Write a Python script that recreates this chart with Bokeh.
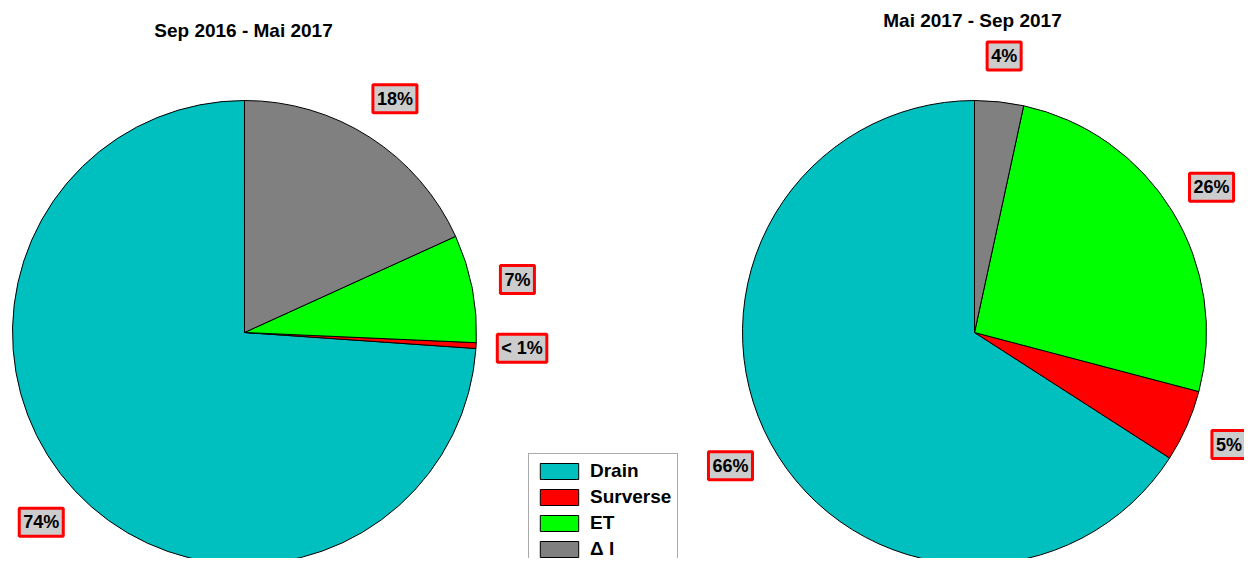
import numpy as np
from bokeh.plotting import figure
from bokeh.models import Range1d, Legend, LegendItem, ColumnDataSource
from bokeh.core.properties import value
from bokeh.embed import file_html
from bokeh.resources import INLINE

# ---- data ----
categories = ["Drain", "Surverse", "ET", "Δ I"]
colors = ["#00BFBF", "#FF0000", "#00FF00", "#808080"]
left_pct = [73.9, 0.4, 7.5, 18.2]
right_pct = [65.9, 5.0, 25.7, 3.4]
left_labels = ["74%", "< 1%", "7%", "18%"]
right_labels = ["66%", "5%", "26%", "4%"]
titles = ["Sep 2016 - Mai 2017", "Mai 2017 - Sep 2017"]

# ---- layout (picture pixel coordinates -> data: y = 566 - pic_y) ----
W, H = 1244, 558
FONT = "Liberation Sans"

p = figure(width=W, height=H, output_backend="svg", toolbar_location=None,
           x_range=Range1d(0, W), y_range=Range1d(566 - H, 566),
           x_axis_type=None, y_axis_type=None, min_border=0)
p.grid.visible = False
p.outline_line_color = None
p.background_fill_color = "white"


def pie(cx, cy, r, pct, labels):
    # clockwise from 12 o'clock, order: Δ I, ET, Surverse, Drain
    order = [3, 2, 1, 0]
    total = float(sum(pct))
    starts, ends, cols, lx, ly, txt = [None] * 4, [None] * 4, [None] * 4, [], [], []
    cum = 0.0
    for i in order:
        a0 = np.pi / 2 - cum / total * 2 * np.pi
        cum += pct[i]
        a1 = np.pi / 2 - cum / total * 2 * np.pi
        starts[i], ends[i], cols[i] = a0, a1, colors[i]
        mid = (a0 + a1) / 2
        lx.append(cx + 278 * np.cos(mid))
        ly.append(cy + 278 * np.sin(mid))
        txt.append(labels[i])
    src = ColumnDataSource(dict(x=[cx] * 4, y=[cy] * 4, start=starts, end=ends,
                                color=cols))
    rend = p.wedge(x="x", y="y", radius=r, start_angle="start", end_angle="end",
                   direction="clock", fill_color="color", line_color="black",
                   line_width=1, source=src)
    p.text(x=lx, y=ly, text=txt, text_align="center", text_baseline="middle",
           text_font=value(FONT), text_font_style="bold", text_font_size="18px",
           text_color="black", background_fill_color="#cccccc",
           border_line_color="#ff0000", border_line_width=3, padding=4)
    return rend


r_left = pie(244, 566 - 332, 232, left_pct, left_labels)
r_right = pie(974, 566 - 332, 232, right_pct, right_labels)

p.text(x=[243, 972], y=[566 - 30, 566 - 20], text=titles, text_align="center",
       text_baseline="middle", text_font=value(FONT), text_font_style="bold",
       text_font_size="19px", text_color="black")

items = [LegendItem(label=categories[i], renderers=[r_left], index=i) for i in range(4)]
legend = Legend(items=items, location=(528, -9), orientation="vertical",
                border_line_color="#555555", border_line_width=1,
                background_fill_color="white", background_fill_alpha=1.0,
                padding=6, spacing=4, margin=0,
                glyph_width=48, glyph_height=20, label_height=20,
                label_standoff=7, label_text_font=FONT, label_text_color="black",
                label_text_font_style="bold", label_text_font_size="19px")
p.add_layout(legend, "center")

open("out.html", "w").write(file_html(p, INLINE))
